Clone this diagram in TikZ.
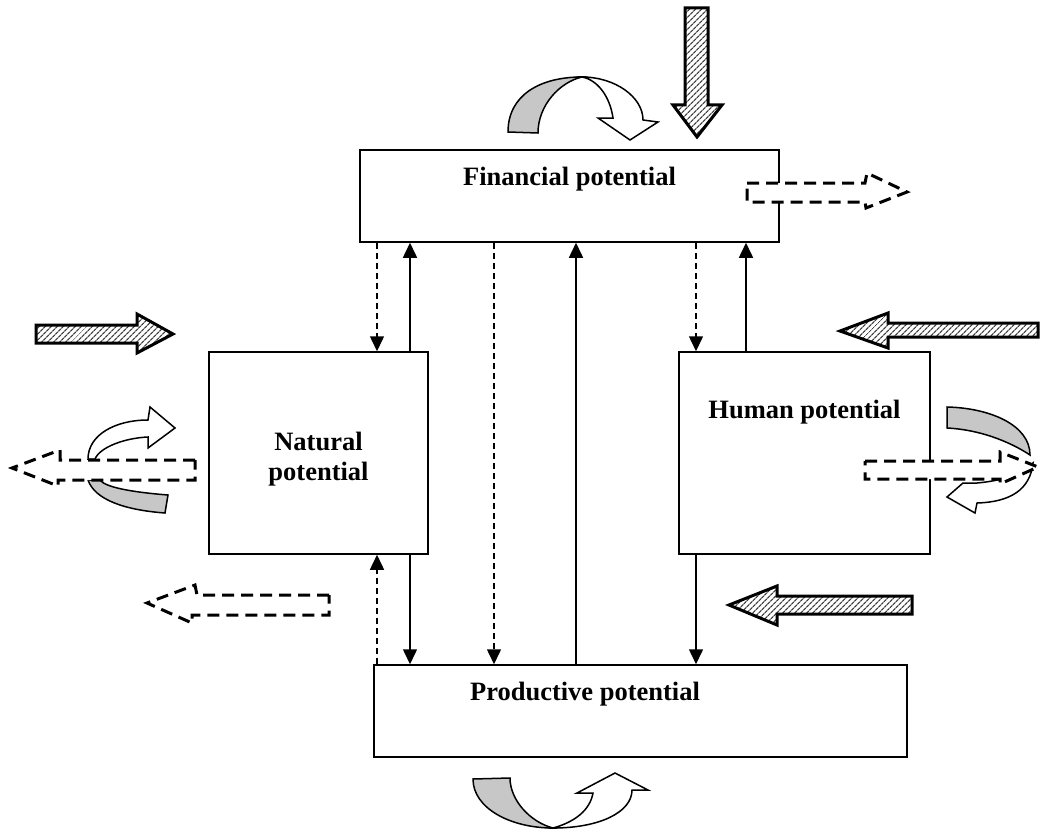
\documentclass[tikz,border=0pt]{standalone}
\usepackage{fontspec}
\setmainfont{Liberation Serif}
\usetikzlibrary{arrows.meta,patterns.meta}

\begin{document}
\begin{tikzpicture}[x=1pt, y=-1pt, every node/.style={font=\fontsize{26.5}{30}\selectfont\bfseries}]
	\tikzstyle{box}=[draw,rectangle,line width=1.5pt,inner sep=0pt]
	\tikzstyle{flow}=[line width=1.5pt,-{Triangle[length=15pt,width=14pt]}]
	\tikzstyle{dflow}=[flow,dash pattern=on 6pt off 4pt]
	\tikzstyle{hatcharrow}=[draw,line width=3pt,line join=miter,pattern={Lines[angle=45,distance=4pt,line width=1.3pt]},pattern color=black!75]
	\tikzstyle{dasharrow}=[draw,fill=white,line width=3pt,dash pattern=on 12pt off 7pt]
	\tikzstyle{grayband}=[draw,fill=black!22,line width=1.5pt]
	\tikzstyle{whiteband}=[draw,fill=white,line width=1.5pt]

	\useasboundingbox (0,0) rectangle (1040,832);

	\node [box,minimum width=419pt,minimum height=92pt] (fin) at (569.5,196) {};
	\node [box,minimum width=219pt,minimum height=202pt] (nat) at (318.5,453) {};
	\node [box,minimum width=251pt,minimum height=202pt] (hum) at (804.5,453) {};
	\node [box,minimum width=533pt,minimum height=92pt] (pro) at (640.5,711) {};

	\node [anchor=base] (finlbl) at (569.5,185) {Financial potential};
	\node [align=center] (natlbl) at (318.5,459) {Natural\\potential};
	\node [anchor=base] (humlbl) at (804.5,418) {Human potential};
	\node [anchor=base] (prolbl) at (585,700) {Productive potential};

	% x positions of the links
	\coordinate (c1) at (377,0);
	\coordinate (c2) at (410,0);
	\coordinate (c3) at (494,0);
	\coordinate (c4) at (576,0);
	\coordinate (c5) at (696,0);
	\coordinate (c6) at (746,0);

	\draw [dflow] (fin.south -| c1) -- (nat.north -| c1);
	\draw [flow] (nat.north -| c2) -- (fin.south -| c2);
	\draw [dflow] (fin.south -| c3) -- (pro.north -| c3);
	\draw [flow] (pro.north -| c4) -- (fin.south -| c4);
	\draw [dflow] (fin.south -| c5) -- (hum.north -| c5);
	\draw [flow] (hum.north -| c6) -- (fin.south -| c6);
	\draw [dflow] (pro.north -| c1) -- (nat.south -| c1);
	\draw [flow] (nat.south -| c2) -- (pro.north -| c2);
	\draw [flow] (hum.south -| c5) -- (pro.north -| c5);

	% inflows
	\draw [hatcharrow] (685,8) -- (708,8) -- (708,105) -- (722,105) -- (697,137) -- (673,105) -- (685,105) -- cycle;
	\draw [hatcharrow] (36,325) -- (137,325) -- (137,314) -- (173,334) -- (137,353) -- (137,343) -- (36,343) -- cycle;
	\draw [hatcharrow] (1038,323) -- (888,323) -- (888,313) -- (840,331) -- (888,348) -- (888,337) -- (1038,337) -- cycle;
	\draw [hatcharrow] (912,596) -- (777,596) -- (777,586) -- (729,605) -- (777,625) -- (777,614) -- (912,614) -- cycle;

	% turning arrows
	\draw [grayband] (508,132) .. controls (508,95) and (540,77) .. (582,77) .. controls (560,82) and (538,105) .. (538,133) -- cycle;
	\draw [whiteband] (582,77) .. controls (615,77) and (643,97) .. (643,120) -- (658,122) -- (630,140) -- (598,118) -- (613,118) .. controls (610,97) and (598,80) .. (582,77) -- cycle;

	\draw [grayband] (473,779) .. controls (473,808) and (510,828) .. (553,828) .. controls (530,822) and (510,800) .. (510,778) -- cycle;
	\draw [whiteband] (553,828) .. controls (600,828) and (632,812) .. (632,790) -- (648,790) -- (615,773) -- (577,793) -- (593,793) .. controls (590,810) and (575,822) .. (553,828) -- cycle;

	\draw [whiteband] (88,459) .. controls (88,435) and (115,420) .. (148,420) -- (150,407) -- (175,428) -- (148,448) -- (148,437) .. controls (125,438) and (100,447) .. (95,459) -- cycle;
	\draw [grayband] (88,480) .. controls (95,500) and (125,510) .. (165,513) -- (168,495) .. controls (130,492) and (105,487) .. (100,480) -- cycle;

	\draw [grayband] (947,407) .. controls (990,408) and (1030,425) .. (1030,455) .. controls (1015,445) and (985,430) .. (947,428) -- cycle;
	\draw [whiteband] (1033,463) .. controls (1030,490) and (1010,502) .. (977,503) -- (975,513) -- (947,497) -- (963,483) -- (977,483) .. controls (1000,481) and (1020,475) .. (1033,463) -- cycle;

	% outflows
	\draw [dasharrow] (747,183) -- (865,183) -- (867,173) -- (907,192) -- (866,208) -- (865,202) -- (747,202) -- cycle;
	\draw [dasharrow] (195,460) -- (60,460) -- (60,450) -- (12,468) -- (58,486) -- (58,480) -- (195,480) -- cycle;
	\draw [dasharrow] (865,461) -- (1000,461) -- (1000,452) -- (1038,467) -- (1000,484) -- (1000,479) -- (865,479) -- cycle;
	\draw [dasharrow] (329,595) -- (197,595) -- (195,585) -- (147,603) -- (192,623) -- (192,615) -- (329,615) -- cycle;

	\end{tikzpicture}
\end{document}
